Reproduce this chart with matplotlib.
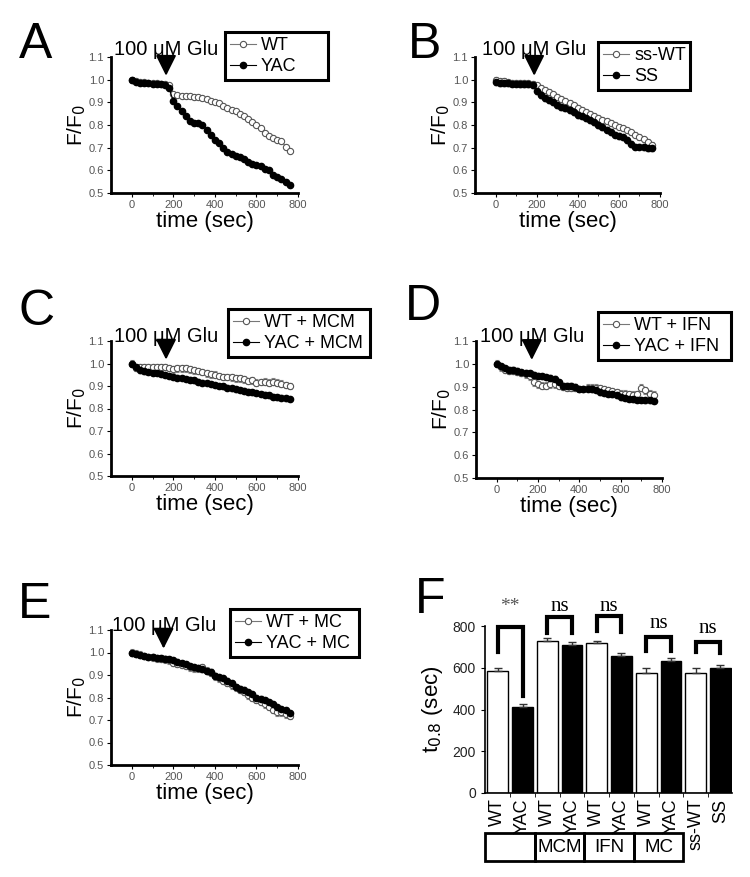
import numpy as np
import matplotlib
matplotlib.use("Agg")
import matplotlib.pyplot as plt
from matplotlib.patches import Rectangle
from matplotlib.lines import Line2D
from matplotlib.ticker import MultipleLocator, FixedLocator
import matplotlib.transforms as mtransforms

plt.rcParams["font.family"] = ["Liberation Sans", "DejaVu Sans"]

W, H = 750, 877

# time points (sec)
t = list(range(0, 780, 20))

# panel A
a_wt = [1.000, .995, .990, .988, .986, .985, .984, .983, .982, .975, .935, .932, .930,
        .929, .927, .925, .922, .918, .913, .908, .903, .896, .886, .877, .868, .860,
        .850, .838, .826, .814, .800, .785, .765, .752, .742, .735, .730, .705, .685]
a_yac = [1.000, .990, .987, .985, .984, .982, .980, .979, .976, .962, .905, .882, .860,
         .838, .816, .808, .808, .800, .780, .757, .735, .720, .700, .683, .671, .664,
         .660, .651, .636, .627, .624, .617, .606, .600, .580, .572, .562, .550, .537]
# panel B
b_sswt = [1.000, .993, .995, .988, .986, .985, .985, .985, .984, .982, .975, .965, .955,
          .945, .935, .925, .915, .906, .897, .887, .877, .868, .859, .850, .841, .832,
          .824, .816, .808, .800, .793, .785, .776, .767, .758, .748, .737, .725, .712]
b_ss = [.990, .985, .985, .984, .983, .983, .982, .982, .981, .975, .950, .932, .920,
        .910, .900, .890, .880, .875, .868, .858, .846, .838, .830, .822, .815, .800,
        .790, .780, .768, .758, .752, .745, .735, .715, .705, .705, .703, .700, .698]
# panel C
c_wt = [1.000, .980, .985, .985, .985, .985, .985, .985, .985, .980, .975, .978, .978,
        .978, .974, .970, .967, .962, .957, .952, .950, .945, .940, .940, .938, .934,
        .935, .930, .922, .925, .915, .918, .920, .915, .920, .915, .910, .905, .900]
c_yac = [1.000, .985, .970, .965, .963, .960, .957, .953, .950, .945, .940, .937, .935,
         .932, .928, .925, .920, .915, .913, .910, .905, .900, .898, .893, .890, .885,
         .883, .880, .875, .872, .868, .865, .862, .858, .853, .850, .848, .845, .842]
# panel D
d_wt = [1.000, .985, .975, .970, .970, .965, .960, .955, .945, .920, .910, .905, .905,
        .910, .910, .905, .900, .895, .895, .895, .890, .890, .895, .895, .895, .893,
        .890, .885, .880, .875, .870, .870, .868, .865, .868, .895, .885, .870, .865]
d_yac = [1.000, .990, .980, .975, .975, .970, .965, .962, .958, .953, .948, .945, .943,
         .940, .935, .920, .905, .905, .905, .900, .890, .890, .890, .888, .885, .875,
         .873, .870, .866, .862, .853, .850, .848, .845, .843, .842, .840, .840, .838]
# panel E
e_wt = [1.000, .995, .990, .985, .980, .978, .975, .972, .970, .965, .955, .950, .945,
        .940, .935, .930, .930, .935, .920, .910, .895, .885, .875, .865, .855, .845,
        .835, .825, .810, .800, .790, .780, .770, .760, .745, .735, .735, .725, .720]
e_yac = [1.000, .995, .990, .985, .980, .978, .976, .975, .973, .970, .965, .960, .953,
         .947, .940, .934, .930, .925, .920, .915, .897, .890, .885, .875, .865, .846,
         .840, .835, .825, .815, .800, .795, .790, .780, .770, .757, .750, .745, .730]
sem = {"A": (0.008, 0.006), "B": (0.012, 0.013), "C": (0.015, 0.010),
       "D": (0.015, 0.010), "E": (0.015, 0.010)}

# panel F
f_labels = ["WT", "YAC", "WT", "YAC", "WT", "YAC", "WT", "YAC", "ss-WT", "SS"]
f_vals = [585, 413, 730, 707, 717, 655, 577, 630, 577, 600]
f_err = [12, 12, 12, 15, 12, 18, 20, 18, 22, 15]
groups = ["", "MCM", "IFN", "MC"]
# brackets: left bar, right bar, top, left leg end, right leg end, text, text y
brackets = [(0, 1, 795, 675, 465, "**", 892),
            (2, 3, 845, 768, 768, "ns", 892),
            (4, 5, 848, 777, 773, "ns", 895),
            (6, 7, 749, 682, 682, "ns", 814),
            (8, 9, 725, 677, 672, "ns", 786)]


def box(l, tp, r, b):
    return [l / W, 1 - b / H, (r - l) / W, (b - tp) / H]


# name, axes box, open series, filled series, legend labels, legend box, glu time, glu text y, letter pos
panels = [
    ("A", (111, 57, 298, 193), a_wt, a_yac, ["WT", "YAC"], (225, 32, 328, 80), 167, 1.135, (36, 45)),
    ("B", (475, 57, 660, 193), b_sswt, b_ss, ["ss-WT", "SS"], (598, 42, 690, 90), 190, 1.135, (425, 45)),
    ("C", (111, 341, 298, 476), c_wt, c_yac, ["WT + MCM", "YAC + MCM"], (228, 309, 370, 358), 167, 1.122, (37, 312)),
    ("D", (476, 341, 662, 478), d_wt, d_yac, ["WT + IFN", "YAC + IFN"], (598, 312, 731, 360), 172, 1.118, (423, 307)),
    ("E", (111, 630, 298, 765), e_wt, e_yac, ["WT + MC", "YAC + MC"], (230, 609, 359, 658), 155, 1.118, (35, 605)),
]

fig = plt.figure(figsize=(W / 100, H / 100), dpi=100)

for name, pos, y_open, y_fill, labels, lb, glu_t, glu_y, letter in panels:
    ax = fig.add_axes(box(*pos))
    s_open, s_fill = sem[name]
    ax.errorbar(t, y_open, yerr=s_open, fmt="-o", ms=4.5, mfc="white", mec="#555",
                color="#777", lw=0.8, mew=0.8, ecolor="#888", elinewidth=0.6,
                capsize=1.5)
    ax.errorbar(t, y_fill, yerr=s_fill, fmt="-o", ms=4.5, mfc="black", mec="black",
                color="black", lw=0.8, ecolor="#777", elinewidth=0.6, capsize=1.5)
    ax.set_xlim(-100, 800)
    ax.set_ylim(0.5, 1.1)
    ax.xaxis.set_major_locator(FixedLocator([0, 200, 400, 600, 800]))
    ax.xaxis.set_minor_locator(FixedLocator([100, 300, 500, 700]))
    ax.yaxis.set_major_locator(MultipleLocator(0.1))
    ax.yaxis.set_major_formatter(plt.FormatStrFormatter("%.1f"))
    for sp in ["top", "right"]:
        ax.spines[sp].set_visible(False)
    for sp in ["left", "bottom"]:
        ax.spines[sp].set_linewidth(2)
    ax.tick_params(direction="out", length=3, width=0.8, labelsize=8,
                   labelcolor="#555", pad=2)
    ax.tick_params(which="minor", direction="out", length=2, width=0.6)
    ax.set_xlabel("time (sec)", fontsize=16)
    ax.xaxis.set_label_coords(0.5, -0.13)
    ax.set_ylabel("F/F$_0$", fontsize=15)
    ax.yaxis.set_label_coords(-0.125, 0.5)
    ax.text(glu_t, glu_y, "100 \u03bcM Glu", fontsize=14.5, ha="center", va="center",
            clip_on=False)
    ax.annotate("", xy=(glu_t - 2, 1.005), xytext=(glu_t - 2, glu_y - 0.055),
                arrowprops=dict(arrowstyle="-|>,head_width=0.45,head_length=0.9",
                                color="black", lw=1.5, mutation_scale=14),
                annotation_clip=False)
    handles = [Line2D([], [], color="#777", lw=0.8, marker="o", ms=4.5, mfc="white",
                      mec="#555", mew=0.8),
               Line2D([], [], color="black", lw=0.8, marker="o", ms=4.5, mfc="black")]
    leg = ax.legend(handles, labels, loc="upper left", mode="expand",
                    bbox_to_anchor=(lb[0] / W, 1 - lb[3] / H, (lb[2] - lb[0]) / W,
                                    (lb[3] - lb[1]) / H),
                    bbox_transform=fig.transFigure, fontsize=13, frameon=True,
                    fancybox=False, framealpha=1, borderaxespad=0, borderpad=0.3,
                    labelspacing=0.2, handlelength=1.4, handletextpad=0.3)
    leg.get_frame().set_edgecolor("black")
    leg.get_frame().set_linewidth(2.2)
    fig.text(letter[0] / W, 1 - letter[1] / H, name, fontsize=36, ha="center",
             va="center")

# panel F
axf = fig.add_axes(box(485, 626, 732, 793))
x = np.arange(len(f_vals))
colors = ["white", "black"] * 5
axf.bar(x, f_vals, width=0.84, color=colors, edgecolor="black", linewidth=1)
axf.errorbar(x, f_vals, yerr=[np.zeros(len(f_err)), f_err], fmt="none",
             ecolor="#333", elinewidth=1, capsize=3, capthick=1)
axf.set_xlim(-0.52, 9.47)
axf.set_ylim(0, 800)
axf.yaxis.set_major_locator(MultipleLocator(200))
axf.set_xticks(x)
axf.set_xticklabels(f_labels, rotation=90, fontsize=13)
axf.xaxis.set_minor_locator(FixedLocator(np.arange(0.5, 10, 1)))
axf.tick_params(axis="x", which="major", length=0, pad=4)
axf.tick_params(axis="x", which="minor", length=3, direction="out")
axf.tick_params(axis="y", length=3, direction="out", labelsize=10, labelcolor="#222")
for sp in ["top", "right"]:
    axf.spines[sp].set_visible(False)
for sp in ["left", "bottom"]:
    axf.spines[sp].set_linewidth(1.2)
axf.set_ylabel("t$_{0.8}$ (sec)", fontsize=16)
axf.yaxis.set_label_coords(-0.16, 0.5)

for x0, x1, top, yl, yr, txt, ty in brackets:
    axf.plot([x0, x0, x1, x1], [yl, top, top, yr], color="black", lw=3,
             clip_on=False, solid_joinstyle="miter")
    axf.text((x0 + x1) / 2, ty, txt, ha="center", va="center",
             fontsize=14 if txt == "**" else 15, color="#555" if txt == "**" else "black",
             family="Liberation Serif", clip_on=False)

trans = mtransforms.blended_transform_factory(axf.transData, axf.transAxes)
for i, g in enumerate(groups):
    axf.add_patch(Rectangle((2 * i - 0.5, -0.407), 2, 0.167, transform=trans,
                            fill=False, lw=2, edgecolor="black", clip_on=False))
    axf.text(2 * i + 0.5, -0.325, g, transform=trans, ha="center", va="center",
             fontsize=13.5)

fig.text(430 / W, 1 - 600 / H, "F", fontsize=36, ha="center", va="center")

fig.savefig("out.png", dpi=100)
